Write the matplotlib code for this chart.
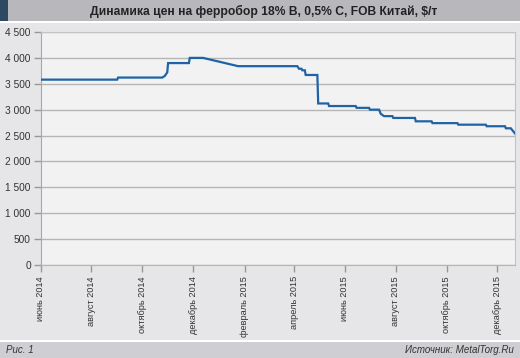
import matplotlib
matplotlib.use("Agg")
import matplotlib.pyplot as plt
from matplotlib.patches import Rectangle
import numpy as np

plt.rcParams['font.family'] = ['Liberation Sans', 'DejaVu Sans']

dates = ["2014-06-01", "2014-09-01", "2014-09-02", "2014-10-25", "2014-10-28",
         "2014-10-31", "2014-11-01", "2014-11-26", "2014-11-27", "2014-12-13",
         "2015-01-24", "2015-04-05", "2015-04-07", "2015-04-10", "2015-04-11",
         "2015-04-14", "2015-04-15", "2015-04-29", "2015-04-30", "2015-05-12",
         "2015-05-13", "2015-06-14", "2015-06-15", "2015-06-30", "2015-07-01",
         "2015-07-12", "2015-07-14", "2015-07-18", "2015-07-28", "2015-07-29",
         "2015-08-24", "2015-08-25", "2015-09-13", "2015-09-14", "2015-10-14",
         "2015-10-15", "2015-11-17", "2015-11-18", "2015-12-10", "2015-12-11",
         "2015-12-17", "2015-12-22"]
prices = [3580, 3580, 3620, 3620, 3650,
          3720, 3900, 3900, 4000, 4000,
          3840, 3840, 3790, 3790, 3760,
          3760, 3670, 3670, 3120, 3120,
          3070, 3070, 3035, 3035, 3000,
          3000, 2920, 2875, 2875, 2840,
          2840, 2775, 2775, 2740, 2740,
          2710, 2710, 2680, 2680, 2640,
          2640, 2540]

tick_dates = ["2014-06-01", "2014-08-01", "2014-10-01", "2014-12-01", "2015-02-01",
              "2015-04-01", "2015-06-01", "2015-08-01", "2015-10-01", "2015-12-01"]
tick_labels = ["июнь 2014", "август 2014", "октябрь 2014", "декабрь 2014", "февраль 2015",
               "апрель 2015", "июнь 2015", "август 2015", "октябрь 2015", "декабрь 2015"]
y_ticks = [0, 500, 1000, 1500, 2000, 2500, 3000, 3500, 4000, 4500]
y_labels = ["0", "500", "1 000", "1 500", "2 000", "2 500", "3 000", "3 500", "4 000", "4 500"]

title = "Динамика цен на ферробор 18% B, 0,5% C, FOB Китай, $/т"

W, H = 520, 358
fig = plt.figure(figsize=(W / 100, H / 100), dpi=100)
fig.patch.set_facecolor("#e6e5e8")

# header bar
fig.patches.append(Rectangle((0, 1 - 21 / H), 1, 21 / H, transform=fig.transFigure,
                             facecolor="#b8b7bc", edgecolor="none", zorder=0))
fig.patches.append(Rectangle((0, 1 - 21 / H), 8 / W, 21 / H, transform=fig.transFigure,
                             facecolor="#2f4862", edgecolor="none", zorder=1))
fig.patches.append(Rectangle((0, 1 - 23 / H), 1, 2 / H, transform=fig.transFigure,
                             facecolor="#ffffff", edgecolor="none", zorder=0))
# footer bar
fig.patches.append(Rectangle((0, 0), 1, 16 / H, transform=fig.transFigure,
                             facecolor="#cfced3", edgecolor="none", zorder=0))
fig.patches.append(Rectangle((0, 16 / H), 1, 2 / H, transform=fig.transFigure,
                             facecolor="#ffffff", edgecolor="none", zorder=0))

fig.text(0.507, 1 - 11 / H, title, ha="center", va="center", fontsize=8.7,
         fontweight="bold", color="#222222")
fig.text(6 / W, 8 / H, "Рис. 1", ha="left", va="center", fontsize=7,
         style="italic", color="#333333")
fig.text(1 - 6 / W, 8 / H, "Источник: MetalTorg.Ru", ha="right", va="center",
         fontsize=7, style="italic", color="#333333")

left, right, top, bottom = 40.5, 515, 32, 265
ax = fig.add_axes([left / W, 1 - bottom / H, (right - left) / W, (bottom - top) / H])
ax.set_facecolor("#f2f2f2")

x = np.array(dates, dtype="datetime64[D]")
ax.plot(x, prices, color="#1f63a6", lw=1.6, solid_joinstyle="miter", zorder=3)

ax.set_ylim(0, 4500)
ax.set_xlim(np.datetime64("2014-06-01"), np.datetime64("2015-12-22"))
ax.set_yticks(y_ticks)
ax.set_yticklabels(y_labels)
ax.set_xticks(np.array(tick_dates, dtype="datetime64[D]"))
ax.set_xticklabels(tick_labels, rotation=90)

ax.grid(axis="y", color="#b5b5b5", lw=1)
ax.set_axisbelow(True)
for s in ["top", "right"]:
    ax.spines[s].set_color("#c4c4c4")
ax.spines["left"].set_color("#a8a8a8")
ax.spines["bottom"].set_color("#b5b5b5")
ax.tick_params(axis="both", colors="#999999", length=5, width=1,
               labelcolor="#333333", pad=2)
ax.tick_params(axis="y", labelsize=7.3)
ax.tick_params(axis="x", labelsize=6.6, pad=3)

fig.savefig("out.png", dpi=100, facecolor=fig.get_facecolor())
